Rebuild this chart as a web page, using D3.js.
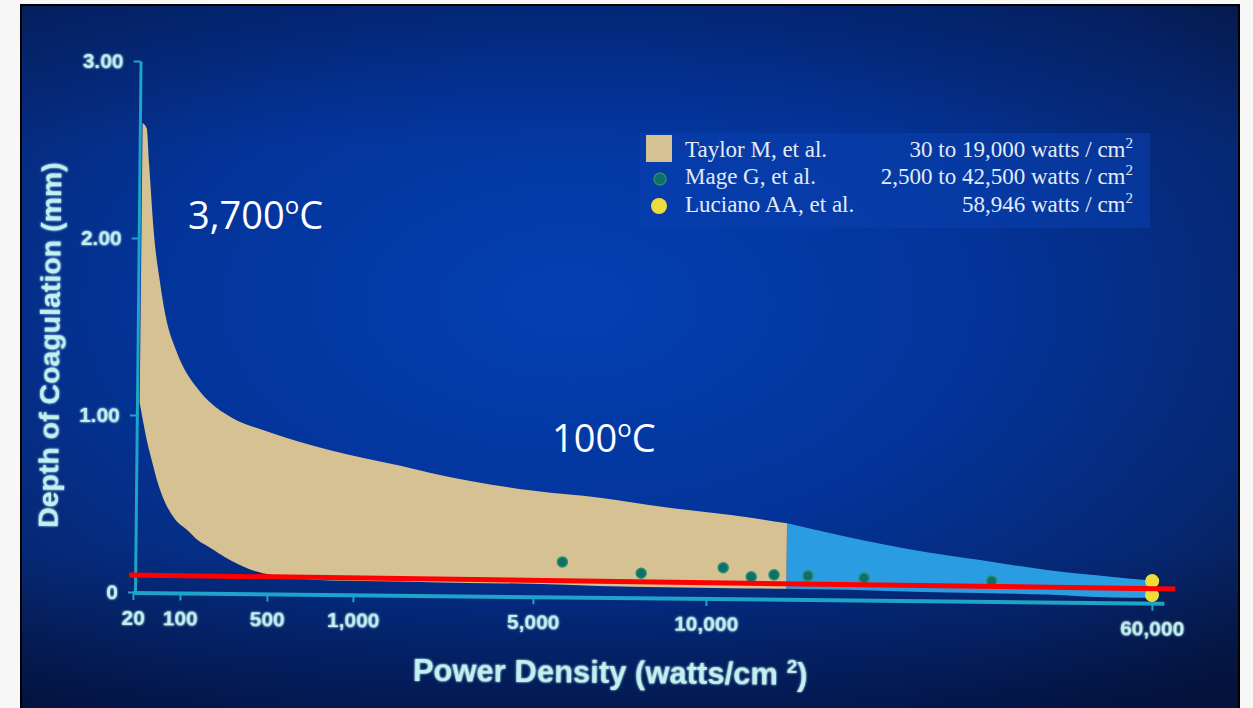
<!DOCTYPE html>
<html><head><meta charset="utf-8">
<script src="https://cdn.jsdelivr.net/npm/d3@7"></script>
<style>
html,body{margin:0;padding:0;background:#f7f7f7;}
svg{display:block;}
.tick text{font-family:"Liberation Sans",Arial,sans-serif;font-weight:bold;}
</style></head><body>
<svg id="chart" width="1253" height="708"></svg>
<script>
// ---------- data ----------
const xTickValues = [20, 100, 500, 1000, 5000, 10000, 60000];
const xTickLabels = ["20", "100", "500", "1,000", "5,000", "10,000", "60,000"];
const yTickValues = [0, 1, 2, 3];
const yTickLabels = ["0", "1.00", "2.00", "3.00"];

const taylorPower = [28, 35, 40, 50, 60, 70, 90, 130, 180, 225, 330, 480, 870, 2000, 2700, 5000, 6900, 8800, 12700, 19000];
const taylorUpper = [2.65, 2.62, 2.41, 2.00, 1.76, 1.57, 1.36, 1.22, 1.14, 1.08, 0.99, 0.92, 0.81, 0.73, 0.69, 0.595, 0.56, 0.51, 0.47, 0.427];
const taylorLower = [1.07, 0.95, 0.87, 0.74, 0.62, 0.53, 0.415, 0.353, 0.296, 0.263, 0.185, 0.114, 0.077, 0.075, 0.073, 0.07, 0.062, 0.058, 0.057, 0.057];

const extrapPower = [19000, 25800, 33200, 40700, 48200, 55600, 59600];
const extrapUpper = [0.427, 0.353, 0.284, 0.231, 0.178, 0.143, 0.127];
const extrapLower = [0.057, 0.055, 0.048, 0.045, 0.040, 0.027, 0.027];

const magePower = [5840, 8120, 11900, 15050, 17600, 21400, 27700, 42000];
const mageDepth = [0.195, 0.136, 0.172, 0.122, 0.135, 0.131, 0.122, 0.113];

const lucianoPower = [60000, 60000];
const lucianoDepth = [0.122, 0.043];

const thresholdPower = [13, 62600];
const thresholdDepth = [0.096, 0.079];

const legendNames = ["Taylor M, et al.", "Mage G, et al.", "Luciano AA, et al."];
const legendRanges = ["30 to 19,000 watts / cm", "2,500 to 42,500 watts / cm", "58,946 watts / cm"];
const annotations = [
  {main: "3,700", unit: "C"},
  {main: "100", unit: "C"}
];

// ---------- layout ----------
const W = 1253, H = 708;
const svg = d3.select("#chart");
const defs = svg.append("defs");

const rg = defs.append("radialGradient").attr("id", "bg")
  .attr("cx", "45%").attr("cy", "42%").attr("r", "75%");
rg.append("stop").attr("offset", "0%").attr("stop-color", "#0440b2");
rg.append("stop").attr("offset", "45%").attr("stop-color", "#03349a");
rg.append("stop").attr("offset", "80%").attr("stop-color", "#062770");
rg.append("stop").attr("offset", "100%").attr("stop-color", "#071a48");

const lg = defs.append("linearGradient").attr("id", "shade")
  .attr("x1", 0).attr("y1", 0).attr("x2", 0).attr("y2", 1);
lg.append("stop").attr("offset", "0%").attr("stop-color", "#000a30").attr("stop-opacity", 0.25);
lg.append("stop").attr("offset", "20%").attr("stop-color", "#000a30").attr("stop-opacity", 0);
lg.append("stop").attr("offset", "78%").attr("stop-color", "#000a30").attr("stop-opacity", 0);
lg.append("stop").attr("offset", "100%").attr("stop-color", "#000a30").attr("stop-opacity", 0.5);

const glow = defs.append("filter").attr("id", "glow").attr("x", "-20%").attr("y", "-40%").attr("width", "140%").attr("height", "180%");
glow.append("feGaussianBlur").attr("in", "SourceGraphic").attr("stdDeviation", 1.2).attr("result", "b");
const fm = glow.append("feMerge");
fm.append("feMergeNode").attr("in", "b");
fm.append("feMergeNode").attr("in", "SourceGraphic");

// photo frame
svg.append("rect").attr("x", 21).attr("y", 5).attr("width", 1218).attr("height", 706)
  .attr("fill", "url(#bg)").attr("stroke", "#000").attr("stroke-width", 2);
svg.append("rect").attr("x", 22).attr("y", 6).attr("width", 1216).attr("height", 702)
  .attr("fill", "url(#shade)");

// rotated chart group (photo is slightly tilted)
const originX = 134, originY = 592;
const g = svg.append("g").attr("transform", `rotate(0.6, ${originX}, ${originY})`);

const xPixels = [133, 180, 267, 353, 533, 706, 1152];
const x = d3.scaleLinear().domain(xTickValues).range(xPixels);
const y = d3.scaleLinear().domain([0, 3]).range([592, 61]);

const axisColor = "#1ea4c8";
const labelColor = "#c2f1f1";

// areas
const taylorData = taylorPower.map((p, i) => ({p, lo: taylorLower[i], hi: taylorUpper[i]}));
const extrapData = extrapPower.map((p, i) => ({p, lo: extrapLower[i], hi: extrapUpper[i]}));
const area = d3.area().x(d => x(d.p)).y0(d => y(d.lo)).y1(d => y(d.hi)).curve(d3.curveMonotoneX);

g.append("path").datum(extrapData).attr("d", area).attr("fill", "#2a9de2");
g.append("path").datum(taylorData).attr("d", area).attr("fill", "#d5c192");

// axes
const xAxis = d3.axisBottom(x).tickValues(xTickValues)
  .tickFormat((d, i) => xTickLabels[i]).tickSize(8).tickSizeOuter(0).tickPadding(10);
const gx = g.append("g").attr("transform", `translate(0,${y(0)})`).call(xAxis);
gx.select(".domain").remove();
gx.selectAll(".tick line").attr("stroke", axisColor).attr("stroke-width", 2);
gx.selectAll(".tick text").attr("fill", labelColor).attr("font-size", 21).attr("filter", "url(#glow)");

g.append("line").attr("x1", x(20)).attr("x2", x(61400)).attr("y1", y(0) + 1).attr("y2", y(0) + 1)
  .attr("stroke", axisColor).attr("stroke-width", 4);

const yAxis = d3.axisLeft(y).tickValues(yTickValues)
  .tickFormat((d, i) => yTickLabels[i]).tickSize(7).tickSizeOuter(0).tickPadding(10);
const gy = g.append("g").attr("transform", `translate(${x(20) + 2},0)`).call(yAxis);
gy.select(".domain").attr("stroke", axisColor).attr("stroke-width", 3);
gy.selectAll(".tick line").attr("stroke", axisColor).attr("stroke-width", 2);
gy.selectAll(".tick text").attr("fill", labelColor).attr("font-size", 21).attr("filter", "url(#glow)");

// axis titles
const xt = g.append("text").attr("x", 611).attr("y", 678).attr("text-anchor", "middle")
  .attr("font-family", "Liberation Sans, Arial, sans-serif").attr("font-weight", "bold")
  .attr("font-size", 31).attr("fill", labelColor).attr("filter", "url(#glow)");
xt.append("tspan").text("Power Density (watts/cm ");
xt.append("tspan").text("2").attr("font-size", 19).attr("dy", -12);
xt.append("tspan").text(")").attr("dy", 12);

g.append("text").attr("transform", "translate(57,346) rotate(-90)").attr("text-anchor", "middle")
  .attr("font-family", "Liberation Sans, Arial, sans-serif").attr("font-weight", "bold")
  .attr("font-size", 28.5).attr("fill", labelColor).attr("filter", "url(#glow)")
  .text("Depth of Coagulation (mm)");

// Mage dots
g.selectAll("circle.mage").data(magePower.map((p, i) => ({p, d: mageDepth[i]})))
  .enter().append("circle").attr("class", "mage")
  .attr("cx", d => x(d.p)).attr("cy", d => y(d.d)).attr("r", 5)
  .attr("fill", "#0f6f6a").attr("stroke", "#2a8f6c").attr("stroke-width", 1.5);

// Luciano dots
g.selectAll("circle.luc").data(lucianoPower.map((p, i) => ({p, d: lucianoDepth[i]})))
  .enter().append("circle").attr("class", "luc")
  .attr("cx", d => x(d.p)).attr("cy", d => y(d.d)).attr("r", 7)
  .attr("fill", "#eddc3a");

// red threshold line
g.append("line")
  .attr("x1", x(thresholdPower[0])).attr("y1", y(thresholdDepth[0]))
  .attr("x2", x(thresholdPower[1])).attr("y2", y(thresholdDepth[1]))
  .attr("stroke", "#ff0000").attr("stroke-width", 5);

// ---------- legend ----------
const leg = svg.append("g");
leg.append("rect").attr("x", 640).attr("y", 133).attr("width", 510).attr("height", 95)
  .attr("fill", "#0a3fae").attr("opacity", 0.55);
const rowY = [157, 184, 212];
leg.append("rect").attr("x", 646).attr("y", 135).attr("width", 26).attr("height", 27).attr("fill", "#d5c192");
leg.append("circle").attr("cx", 660).attr("cy", 179).attr("r", 6).attr("fill", "#0f6f6a").attr("stroke", "#2a8f6c").attr("stroke-width", 1.5);
leg.append("circle").attr("cx", 659).attr("cy", 206).attr("r", 8).attr("fill", "#eddc3a");
legendNames.forEach((n, i) => {
  leg.append("text").attr("x", 685).attr("y", rowY[i])
    .attr("font-family", "Liberation Serif, Times New Roman, serif").attr("font-size", 23)
    .attr("fill", "#e2ebf7").text(n);
  const t = leg.append("text").attr("x", 1133).attr("y", rowY[i]).attr("text-anchor", "end")
    .attr("font-family", "Liberation Serif, Times New Roman, serif").attr("font-size", 23)
    .attr("fill", "#e2ebf7");
  t.append("tspan").text(legendRanges[i]);
  t.append("tspan").text("2").attr("font-size", 15).attr("dy", -9);
});

// ---------- annotations ----------
const annPos = [[188, 229], [552, 452]];
annotations.forEach((a, i) => {
  const t = svg.append("text").attr("x", annPos[i][0]).attr("y", annPos[i][1])
    .attr("font-family", "Open Sans, sans-serif").attr("font-size", 38).attr("fill", "#ffffff");
  t.append("tspan").text(a.main);
  t.append("tspan").text("o").attr("font-size", 24).attr("dy", -15);
  t.append("tspan").text(a.unit).attr("dy", 15);
});
</script>
</body></html>
